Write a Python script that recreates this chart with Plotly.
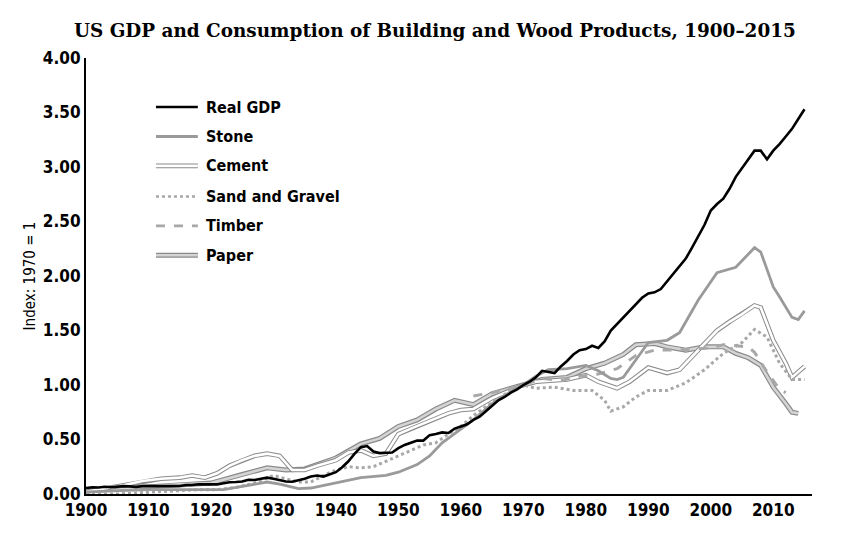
import plotly.graph_objects as go

# ---------------- data ----------------
gdp_years = list(range(1900, 2016))
gdp_vals = [0.055, 0.062, 0.060, 0.066, 0.062, 0.068, 0.072, 0.070, 0.064, 0.072,
            0.072, 0.070, 0.076, 0.074, 0.070, 0.074, 0.082, 0.082, 0.090, 0.090,
            0.092, 0.088, 0.098, 0.108, 0.110, 0.115, 0.130, 0.128, 0.140, 0.150,
            0.140, 0.130, 0.115, 0.112, 0.125, 0.140, 0.160, 0.170, 0.160, 0.180,
            0.200, 0.245, 0.300, 0.370, 0.430, 0.440, 0.390, 0.375, 0.380, 0.380,
            0.420, 0.450, 0.470, 0.490, 0.490, 0.540, 0.550, 0.565, 0.560, 0.600,
            0.620, 0.640, 0.680, 0.710, 0.760, 0.810, 0.860, 0.890, 0.930, 0.960,
            1.000, 1.030, 1.070, 1.130, 1.120, 1.110, 1.170, 1.220, 1.280, 1.320,
            1.330, 1.360, 1.340, 1.400, 1.500, 1.560, 1.620, 1.680, 1.740, 1.800,
            1.840, 1.850, 1.880, 1.950, 2.020, 2.090, 2.160, 2.260, 2.360, 2.470,
            2.600, 2.660, 2.710, 2.800, 2.910, 2.990, 3.070, 3.150, 3.150, 3.070,
            3.150, 3.210, 3.280, 3.350, 3.440, 3.530]

stone_years = [1900, 1905, 1910, 1915, 1920, 1922, 1925, 1929, 1931, 1934, 1936, 1940,
               1944, 1948, 1950, 1953, 1955, 1957, 1960, 1962, 1965, 1968, 1970, 1972,
               1974, 1977, 1980, 1982, 1984, 1985, 1986, 1988, 1990, 1993, 1995, 1998,
               2001, 2004, 2006, 2007, 2008, 2010, 2011, 2013, 2014, 2015]
stone_vals = [0.02, 0.03, 0.04, 0.04, 0.04, 0.04, 0.07, 0.11, 0.09, 0.05, 0.055, 0.10,
              0.15, 0.17, 0.20, 0.27, 0.35, 0.47, 0.60, 0.68, 0.83, 0.94, 1.00, 1.08,
              1.14, 1.15, 1.18, 1.13, 1.06, 1.05, 1.07, 1.23, 1.39, 1.41, 1.48, 1.78,
              2.03, 2.08, 2.20, 2.26, 2.22, 1.90, 1.81, 1.62, 1.60, 1.68]

cement_years = [1900, 1903, 1906, 1909, 1912, 1915, 1917, 1919, 1921, 1923, 1925, 1927,
                1929, 1931, 1933, 1935, 1937, 1940, 1942, 1944, 1946, 1948, 1950, 1952,
                1955, 1958, 1960, 1962, 1965, 1968, 1970, 1972, 1974, 1977, 1980, 1982,
                1985, 1987, 1990, 1993, 1995, 1998, 2001, 2003, 2005, 2007, 2008, 2010,
                2012, 2013, 2015]
cement_vals = [0.02, 0.05, 0.08, 0.12, 0.14, 0.15, 0.17, 0.15, 0.19, 0.26, 0.31, 0.35,
               0.37, 0.35, 0.22, 0.22, 0.26, 0.31, 0.38, 0.40, 0.35, 0.37, 0.55, 0.60,
               0.67, 0.74, 0.77, 0.78, 0.88, 0.95, 1.00, 1.03, 1.04, 1.05, 1.09, 1.03,
               0.97, 1.03, 1.16, 1.11, 1.14, 1.32, 1.50, 1.58, 1.65, 1.73, 1.71, 1.41,
               1.20, 1.07, 1.17]

sand_years = [1900, 1905, 1908, 1911, 1915, 1918, 1921, 1924, 1927, 1930, 1932, 1934,
              1936, 1938, 1940, 1942, 1944, 1946, 1948, 1950, 1952, 1954, 1956, 1958,
              1960, 1962, 1965, 1968, 1970, 1972, 1975, 1978, 1981, 1983, 1984, 1986,
              1988, 1990, 1993, 1996, 1999, 2002, 2005, 2007, 2009, 2011, 2013, 2015]
sand_vals = [0.00, 0.00, 0.01, 0.02, 0.03, 0.04, 0.04, 0.06, 0.10, 0.17, 0.14, 0.11,
             0.11, 0.17, 0.22, 0.25, 0.24, 0.25, 0.30, 0.35, 0.40, 0.45, 0.47, 0.55,
             0.62, 0.72, 0.84, 0.95, 1.00, 0.97, 0.98, 0.95, 0.95, 0.86, 0.76, 0.80,
             0.89, 0.95, 0.95, 1.02, 1.14, 1.29, 1.39, 1.51, 1.44, 1.20, 1.05, 1.05]

timber_years = [1962, 1965, 1968, 1970, 1973, 1976, 1979, 1982, 1985, 1988, 1991, 1994,
                1997, 2000, 2002, 2004, 2006, 2007, 2009, 2011, 2012]
timber_vals = [0.90, 0.93, 0.97, 1.00, 1.06, 1.04, 1.08, 1.10, 1.15, 1.27, 1.32, 1.32,
               1.33, 1.34, 1.37, 1.36, 1.35, 1.30, 1.12, 0.96, 0.93]

paper_years = [1900, 1905, 1910, 1915, 1920, 1925, 1929, 1932, 1935, 1940, 1944, 1947,
               1950, 1953, 1956, 1959, 1962, 1965, 1968, 1970, 1973, 1977, 1980, 1983,
               1986, 1988, 1991, 1993, 1996, 1999, 2002, 2004, 2006, 2008, 2010, 2012,
               2013, 2014]
paper_vals = [0.03, 0.05, 0.07, 0.09, 0.10, 0.18, 0.24, 0.22, 0.23, 0.33, 0.46, 0.51,
              0.62, 0.68, 0.78, 0.86, 0.82, 0.92, 0.97, 1.00, 1.05, 1.07, 1.15, 1.20,
              1.28, 1.37, 1.38, 1.35, 1.32, 1.35, 1.35, 1.29, 1.25, 1.18, 0.98, 0.83,
              0.75, 0.74]

legend_labels = ["Real GDP", "Stone", "Cement", "Sand and Gravel", "Timber", "Paper"]
x_ticks = list(range(1900, 2011, 10))
y_ticks = [0, 0.5, 1.0, 1.5, 2.0, 2.5, 3.0, 3.5, 4.0]

# ---------------- styles ----------------
COND = "DejaVu Sans Condensed, Liberation Sans Narrow, DejaVu Sans, sans-serif"
GRAY = "#9a9a9a"
OUTLINE = "#8a8a8a"

fig = go.Figure()

def add(x, y, color, width, dash="solid"):
    fig.add_trace(go.Scatter(x=x, y=y, mode="lines", showlegend=False, hoverinfo="skip",
                             line=dict(color=color, width=width, dash=dash)))

# paper (double line with light fill)
add(paper_years, paper_vals, OUTLINE, 5)
add(paper_years, paper_vals, "#d4d4d4", 2.6)
# cement (double line, white centre)
add(cement_years, cement_vals, OUTLINE, 4.6)
add(cement_years, cement_vals, "white", 2.6)
# sand and gravel
add(sand_years, sand_vals, "#a8a8a8", 3, "dot")
# timber
add(timber_years, timber_vals, "#a8a8a8", 3, "dash")
# stone
add(stone_years, stone_vals, GRAY, 2.8)
# GDP
add(gdp_years, gdp_vals, "black", 2.6)

# ---------------- manual legend ----------------
X0, X1 = 1911.2, 1917.9
legend_y = [3.55, 3.28, 3.01, 2.73, 2.46, 2.19]
styles = [
    [("black", 2.6, "solid")],
    [(GRAY, 2.8, "solid")],
    [(OUTLINE, 4.6, "solid"), ("white", 2.6, "solid")],
    [("#a8a8a8", 2.6, "dot")],
    [("#a8a8a8", 2.6, "dash")],
    [(OUTLINE, 5, "solid"), ("#d4d4d4", 2.6, "solid")],
]
for lab, yy, st in zip(legend_labels, legend_y, styles):
    for col, w, d in st:
        fig.add_shape(type="line", x0=X0, x1=X1, y0=yy, y1=yy, xref="x", yref="y",
                      line=dict(color=col, width=w, dash=d))
    fig.add_annotation(x=X1 + 1.0, y=yy, xref="x", yref="y", text="<b>%s</b>" % lab,
                       showarrow=False, xanchor="left", yanchor="middle",
                       font=dict(family=COND, size=16, color="black"))

fig.update_layout(
    width=846, height=544,
    margin=dict(l=86, r=34, t=58, b=50),
    paper_bgcolor="white", plot_bgcolor="white",
    title=dict(text="<b>US GDP and Consumption of Building and Wood Products, 1900–2015</b>",
               x=0.514, xanchor="center", y=0.943, yanchor="middle",
               font=dict(family="DejaVu Serif, Liberation Serif, serif", size=18.4, color="black")),
    xaxis=dict(range=[1900, 2016.2], tickvals=x_ticks, ticktext=["<b>%d</b>" % v for v in x_ticks],
               showgrid=False, zeroline=False, showline=True, linecolor="black", linewidth=2,
               ticks="", tickfont=dict(family=COND, size=17, color="black")),
    yaxis=dict(range=[0, 4.0], tickvals=y_ticks, ticktext=["<b>%.2f</b>" % v for v in y_ticks],
               showgrid=False, zeroline=False, showline=True, linecolor="black", linewidth=2,
               ticks="", tickfont=dict(family=COND, size=17, color="black"),
               title=dict(text="Index: 1970 = 1", standoff=4,
                          font=dict(family=COND, size=15, color="black"))),
)

# narrow (condensed) face for the sans-serif labels, as in the reference
post = """
document.querySelectorAll('.xtick text, .ytick text, .annotation-text, .ytitle').forEach(function(t){
  t.style.fontStretch = 'condensed';
});
"""

fig.write_html("out.html", post_script=post)
